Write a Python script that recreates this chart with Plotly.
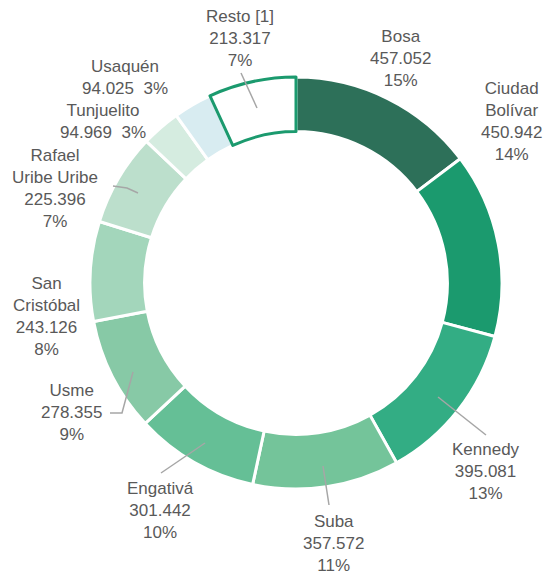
import plotly.graph_objects as go

# page has an 8px body margin; figure is placed at (8, 8)
OFF = 8
W, H = 551 - OFF, 576 - OFF

localidades = ["Bosa", "Ciudad Bolívar", "Kennedy", "Suba", "Engativá", "Usme",
               "San Cristóbal", "Rafael Uribe Uribe", "Tunjuelito", "Usaquén", "Resto [1]"]
valores = [457052, 450942, 395081, 357572, 301442, 278355, 243126, 225396, 94969, 94025, 213317]
etiquetas_nombre = ["Bosa", "Ciudad<br>Bolívar", "Kennedy", "Suba", "Engativá", "Usme",
                    "San<br>Cristóbal", "Rafael<br>Uribe Uribe", "Tunjuelito", "Usaquén", "Resto [1]"]
colores = ["#2d7059", "#1b9a6e", "#33ad84", "#74c49a", "#65bf96", "#87c9a6",
           "#a3d6bb", "#bcdfcc", "#d5ece0", "#d8ecf1", "#ffffff"]

# label block centres (screen pixels)
label_pos = [(400, 58), (511, 121), (486, 471), (333, 543), (160, 510), (71, 412),
             (46, 316), (55, 188), (103, 121), (125, 77), (240, 39)]
same_line = {"Tunjuelito", "Usaquén"}
leaders = [
    [(241, 73), (257, 108)],             # Resto
    [(438, 397), (486, 435)],            # Kennedy
    [(323, 466), (329, 505)],            # Suba
    [(205, 443), (161, 473)],            # Engativá
    [(133, 372), (122, 413), (110, 413)],  # Usme
    [(138, 193), (127, 188), (113, 186)],  # Rafael
]

total = sum(valores)

def px(x, y):
    return (x - OFF) / W, 1 - (y - OFF) / H

cx, cy, r = 296 - OFF, 283 - OFF, 206
fig = go.Figure(go.Pie(
    labels=localidades, values=valores, sort=False, direction="clockwise", rotation=0,
    hole=0.735, textinfo="none", hoverinfo="label+value+percent",
    marker=dict(colors=colores,
                line=dict(color=["#ffffff"] * 10 + ["#1b9a6e"], width=[3] * 10 + [3])),
    domain=dict(x=[(cx - r) / W, (cx + r) / W], y=[(H - cy - r) / H, (H - cy + r) / H]),
    showlegend=False,
))

anns = []
for name, lab, v, (x, y) in zip(localidades, etiquetas_nombre, valores, label_pos):
    val = f"{v:,}".replace(",", ".")
    pct = f"{round(v / total * 100)}%"
    if name in same_line:
        text = f"{lab}<br>{val}  {pct}"
    else:
        text = f"{lab}<br>{val}<br>{pct}"
    xp, yp = px(x, y)
    anns.append(dict(x=xp, y=yp, xref="paper", yref="paper", text=text, showarrow=False,
                     xanchor="center", yanchor="middle", align="center",
                     font=dict(family="Liberation Sans, Arial, sans-serif", size=17, color="#595959")))

shapes = []
for pts in leaders:
    path = "M " + " L ".join(f"{px(x, y)[0]},{px(x, y)[1]}" for x, y in pts)
    shapes.append(dict(type="path", path=path, xref="paper", yref="paper",
                       line=dict(color="#a6a6a6", width=1.5)))

fig.update_layout(width=W, height=H, margin=dict(l=0, r=0, t=0, b=0),
                  paper_bgcolor="white", plot_bgcolor="white",
                  annotations=anns, shapes=shapes)
fig.write_html("out.html")
